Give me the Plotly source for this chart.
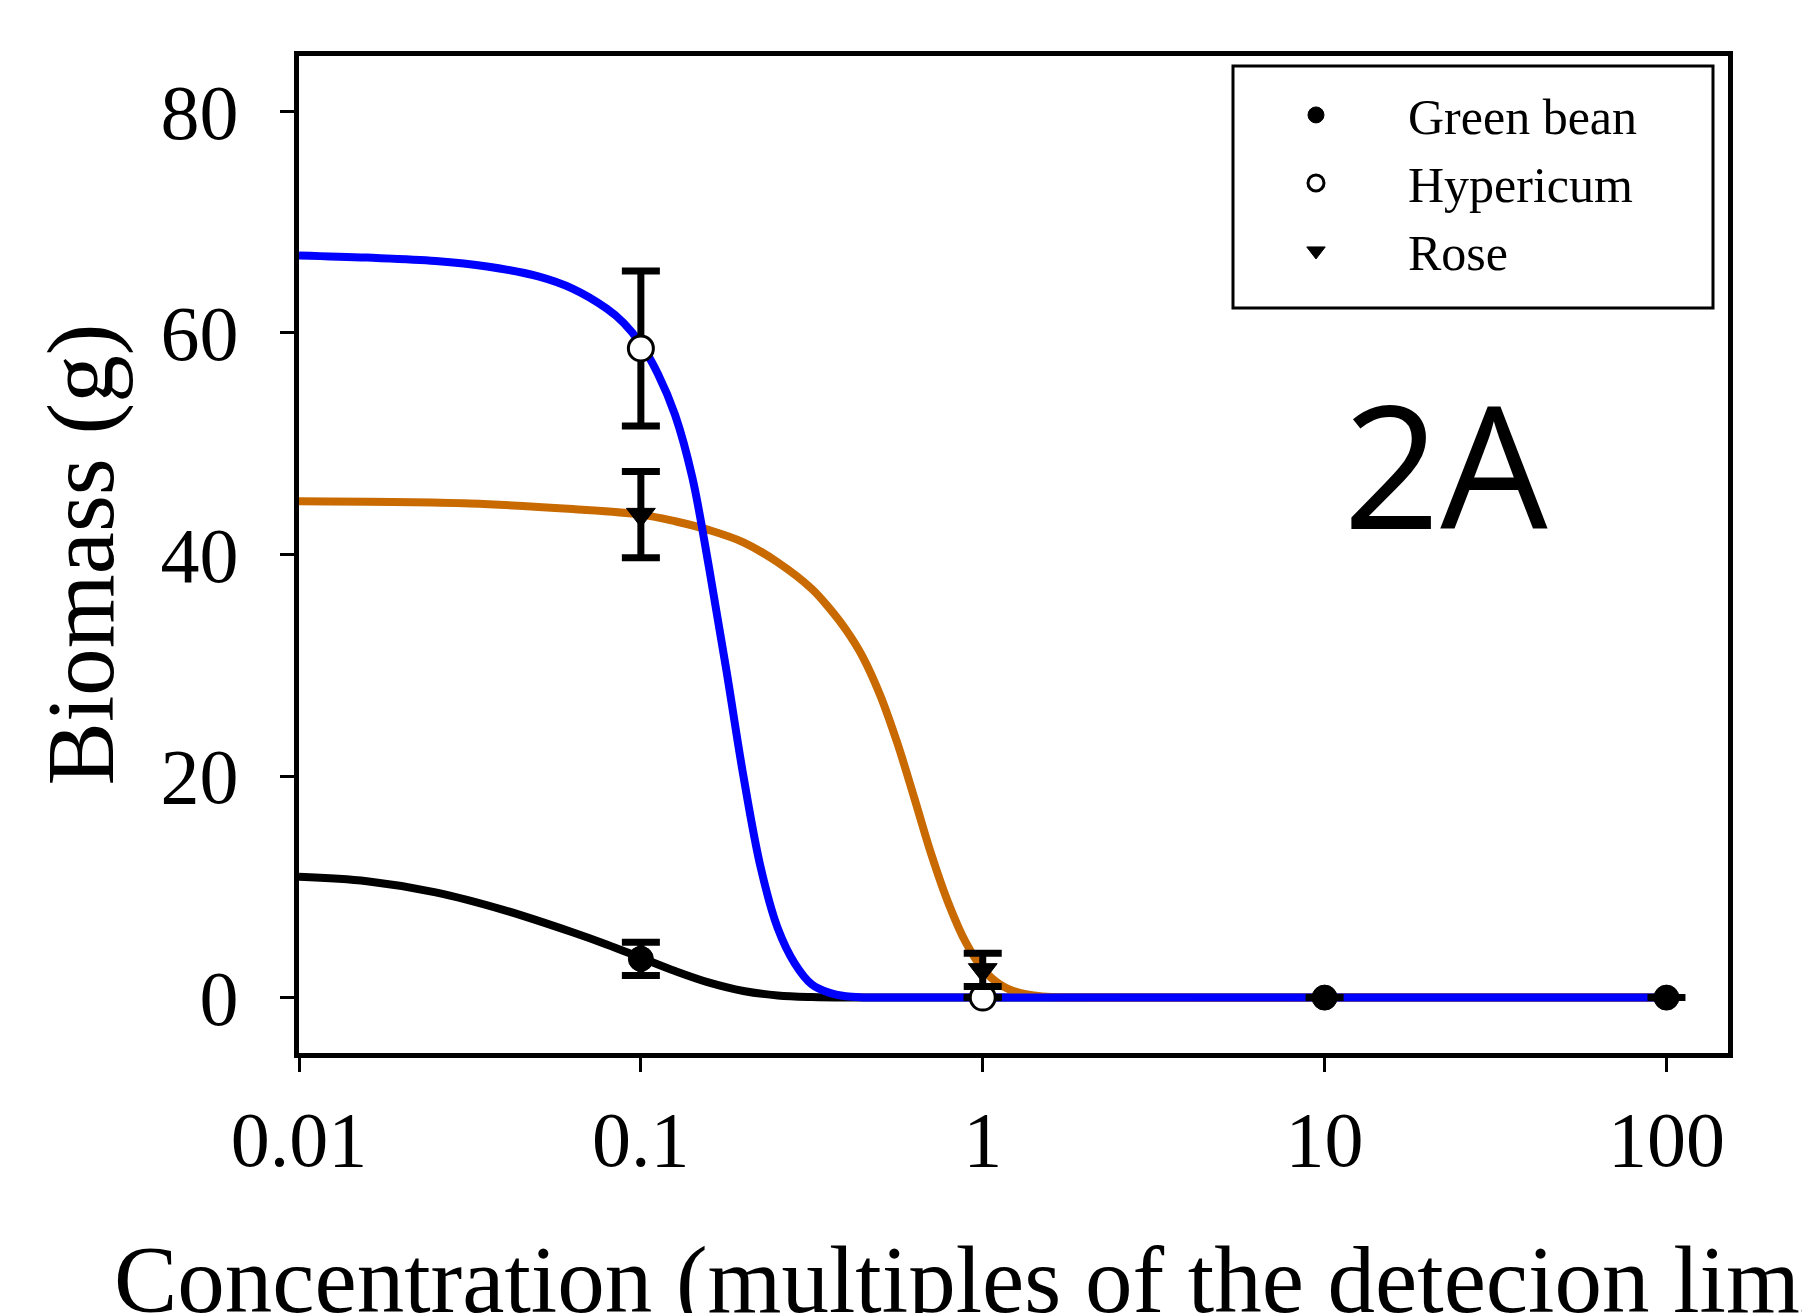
import plotly.graph_objects as go

# ---------------- data ----------------
tick_vals = [0.01, 0.1, 1, 10, 100]
tick_text = ["0.01", "0.1", "1", "10", "100"]
y_ticks = [0, 20, 40, 60, 80]

# measured points
green_x = [0.1, 1, 10, 100]
green_y = [3.5, 0.0, 0.0, 0.0]
green_err = [1.5, None, None, None]

hyper_x = [0.1, 1]
hyper_y = [58.6, 0.0]
hyper_err = [7.0, None]

rose_x = [0.1, 1]
rose_y = [43.6, 2.5]
rose_err = [3.9, 1.5]

# fitted curves
green_fit_x = [0.01, 0.0158, 0.0251, 0.0398, 0.0631, 0.0794, 0.1, 0.1259, 0.1585, 0.1995,
               0.2512, 0.3162, 0.3981, 1, 10, 100]
green_fit_y = [10.9, 10.5, 9.5, 7.9, 5.9, 4.8, 3.6, 2.4, 1.35, 0.6,
               0.2, 0.05, 0.0, 0.0, 0.0, 0.0]

rose_fit_x = [0.01, 0.0316, 0.0631, 0.1, 0.1259, 0.1585, 0.1995, 0.2512, 0.3162, 0.3548,
              0.3981, 0.4467, 0.5012, 0.5623, 0.631, 0.7079, 0.7943, 0.8913, 1.0, 1.122,
              1.259, 1.413, 1.585, 1.995, 10, 100]
rose_fit_y = [44.8, 44.6, 44.1, 43.6, 43.0, 42.2, 41.1, 39.3, 36.9, 35.2,
              33.2, 30.7, 27.3, 23.0, 18.0, 12.9, 8.5, 5.0, 2.6, 1.2,
              0.5, 0.2, 0.05, 0.0, 0.0, 0.0]

hyper_fit_x = [0.01, 0.0158, 0.0251, 0.0355, 0.0501, 0.0631, 0.0794, 0.0891, 0.1, 0.1122,
               0.1259, 0.1413, 0.1585, 0.1778, 0.1995, 0.2239, 0.2512, 0.2818, 0.3162,
               0.3548, 0.3981, 0.4467, 0.5012, 1, 10, 100]
hyper_fit_y = [67.0, 66.8, 66.5, 66.0, 65.1, 64.0, 62.2, 60.9, 59.0, 56.3,
               52.6, 47.0, 38.7, 29.6, 20.0, 11.8, 6.3, 3.1, 1.2,
               0.45, 0.12, 0.02, 0.0, 0.0, 0.0, 0.0]

BLUE = "#0000FF"
ORANGE = "#C86A00"
SERIF = "Liberation Serif, Times New Roman, serif"
LW = 8

fig = go.Figure()

# curves
fig.add_trace(go.Scatter(x=green_fit_x, y=green_fit_y, mode="lines",
                         line=dict(color="black", width=LW, shape="spline", smoothing=1.0),
                         showlegend=False, hoverinfo="skip"))
fig.add_trace(go.Scatter(x=rose_fit_x, y=rose_fit_y, mode="lines",
                         line=dict(color=ORANGE, width=LW, shape="spline", smoothing=1.0),
                         showlegend=False, hoverinfo="skip"))
fig.add_trace(go.Scatter(x=hyper_fit_x, y=hyper_fit_y, mode="lines",
                         line=dict(color=BLUE, width=LW, shape="spline", smoothing=1.0),
                         showlegend=False, hoverinfo="skip"))

# points with error bars
err_style = dict(type="data", visible=True, color="black", thickness=7, width=19)
fig.add_trace(go.Scatter(x=green_x, y=green_y, mode="markers", name="Green bean",
                         marker=dict(symbol="circle", size=25, color="black",
                                     line=dict(color="black", width=1)),
                         error_y=dict(array=green_err, **err_style)))
fig.add_trace(go.Scatter(x=hyper_x, y=hyper_y, mode="markers", name="Hypericum",
                         marker=dict(symbol="circle", size=25, color="white",
                                     line=dict(color="black", width=3)),
                         error_y=dict(array=hyper_err, **err_style)))
fig.add_trace(go.Scatter(x=rose_x, y=rose_y, mode="markers", name="Rose",
                         marker=dict(symbol="triangle-down", size=25, color="black",
                                     line=dict(color="black", width=1)),
                         error_y=dict(array=rose_err, **err_style)))

fig.update_layout(
    width=1810, height=1313,
    margin=dict(l=291, r=90, t=48, b=268),
    paper_bgcolor="white", plot_bgcolor="white",
    font=dict(family=SERIF, color="black"),
    showlegend=True,
    legend=dict(x=0.6473, xanchor="left", y=0.98, yanchor="top",
                font=dict(family=SERIF, size=50, color="black"),
                bgcolor="rgba(0,0,0,0)", borderwidth=0, itemwidth=174,
                tracegroupgap=0),
    xaxis=dict(type="log", range=[-2, 2.18], tickvals=tick_vals, ticktext=tick_text,
               ticks="outside", ticklen=14, tickwidth=3, tickcolor="black",
               showline=True, linecolor="black", linewidth=5, mirror=True,
               showgrid=False, zeroline=False,
               tickfont=dict(family=SERIF, size=78, color="black"),
               ticklabelstandoff=0),
    yaxis=dict(range=[-5, 85], tickvals=y_ticks,
               ticks="outside", ticklen=14, tickwidth=3, tickcolor="black",
               showline=True, linecolor="black", linewidth=5, mirror=True,
               showgrid=False, zeroline=False,
               tickfont=dict(family=SERIF, size=78, color="black"),
               ticklabelstandoff=26),
    shapes=[dict(type="rect", xref="paper", yref="paper",
                 x0=0.6536, x1=0.9895, y0=0.7472, y1=0.99,
                 line=dict(color="black", width=3), fillcolor="rgba(0,0,0,0)")],
    annotations=[
        dict(text="Biomass (g)", xref="paper", yref="paper", x=-0.1526, y=0.5,
             xanchor="center", yanchor="middle", textangle=-90, showarrow=False,
             font=dict(family=SERIF, size=95, color="black")),
        dict(text="Concentration (multiples of the detecion limit)", xref="paper", yref="paper",
             x=-0.1312, y=-0.228, xanchor="left", yanchor="middle", showarrow=False,
             font=dict(family=SERIF, size=95, color="black")),
        dict(text="2A", xref="paper", yref="paper", x=0.802, y=0.5915,
             xanchor="center", yanchor="middle", showarrow=False,
             font=dict(family="Open Sans, Noto Sans, sans-serif", size=170, color="black")),
    ],
)

fig.write_html("out.html")
